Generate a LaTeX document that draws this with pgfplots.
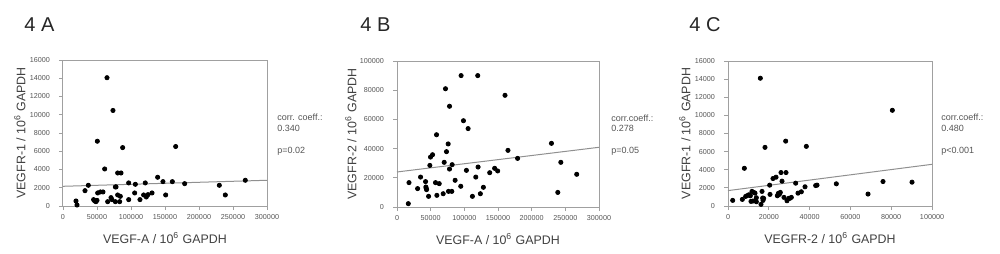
\documentclass[border=0pt]{standalone}
\usepackage{pgfplots}
\pgfplotsset{compat=1.18}
\usepackage{fontspec}
\setmainfont{Liberation Sans}
\definecolor{txt}{HTML}{404040}
\definecolor{tick}{HTML}{555555}
\definecolor{box}{HTML}{A0A0A0}
\definecolor{trend}{HTML}{909090}
\pgfplotsset{
  panel/.style={
    scale only axis,
    axis line style={box, line width=0.5pt},
    tick style={box, line width=0.4pt},
    major tick length=2pt,
    tick align=outside,
    axis x line*=bottom, axis y line*=left,
    ticklabel style={font=\fontsize{3.6}{4}\selectfont, text=tick},
    /pgf/number format/assume math mode=true,
    /pgf/number format/fixed,
    /pgf/number format/1000 sep={},
    scaled ticks=false,
    xtick pos=bottom, ytick pos=left,
    xticklabel style={yshift=1.5pt},
    yticklabel style={xshift=-1pt},
    label style={font=\fontsize{6.2}{7}\selectfont, text=txt},
    xlabel style={at={([yshift=-16pt]axis description cs:0.5,0)}, anchor=center},
    ylabel style={at={([xshift=-21.5pt]axis description cs:0,0.5)}, anchor=center, rotate=0},
    clip=false,
  },
  pts/.style={only marks, mark=*, mark size=1.05pt, black, mark options={fill=black}},
  tr/.style={trend, line width=0.5pt, no marks},
}
\begin{document}
\begin{tikzpicture}
\useasboundingbox (0,0) rectangle (500pt,126.5pt);
% Panel A
\begin{axis}[panel, at={(31.5pt,23.5pt)}, anchor=south west, width=102pt, height=73pt,
  xmin=0, xmax=300000, ymin=0, ymax=16000,
  xtick={0,50000,100000,150000,200000,250000,300000},
  ytick={0,2000,4000,6000,8000,10000,12000,14000,16000},
  xlabel={VEGF-A / 10\textsuperscript{6} GAPDH},
  ylabel={VEGFR-1 / 10\textsuperscript{6} GAPDH}]
\draw[box, line width=0.5pt] (rel axis cs:0,0) rectangle (rel axis cs:1,1);
\addplot[tr] coordinates {(0,2160) (300000,2820)};
\addplot[pts] coordinates {
(64700,14060) (73500,10470) (50500,7100) (87700,6400) (165700,6520)
(61300,4060) (80400,3620) (85300,3620) (37250,2270) (77000,2090) (78000,2090)
(96600,2530) (106400,2380) (121000,2530) (139200,3150) (147000,2670)
(160800,2670) (178900,2450) (229900,2270) (268100,2820) (238700,1210)
(151000,1210) (32350,1680) (51000,1430) (54900,1540) (58800,1540)
(105400,1430) (118600,1210) (122500,990) (125000,1245) (130900,1430)
(80400,1210) (84300,1060) (113200,700) (96600,700) (70600,915) (72000,700)
(65700,475) (77000,475) (83300,475) (45000,700) (46600,550) (48500,475)
(50000,620) (19100,550) (20600,110)
};
\end{axis}
% Panel B
\begin{axis}[panel, at={(198.5pt,23pt)}, anchor=south west, width=101pt, height=73pt,
  xmin=0, xmax=300000, ymin=0, ymax=100000,
  xtick={0,50000,100000,150000,200000,250000,300000},
  ytick={0,20000,40000,60000,80000,100000},
  xlabel={VEGF-A / 10\textsuperscript{6} GAPDH},
  ylabel={VEGFR-2 / 10\textsuperscript{6} GAPDH},
  ylabel style={at={([xshift=-23pt]axis description cs:0,0.5)}}]
\draw[box, line width=0.5pt] (rel axis cs:0,0) rectangle (rel axis cs:1,1);
\addplot[tr] coordinates {(0,24000) (300000,40900)};
\addplot[pts] coordinates {
(95200,90000) (119900,90000) (72000,81000) (160400,76500) (78000,69000)
(98700,59100) (105600,53700) (58700,49500) (76000,43200) (229400,43600)
(73500,37900) (164800,38800) (52800,35800) (49800,34200) (70100,30600)
(243300,30600) (179100,33300) (48800,28500) (81900,29000) (120400,27400)
(78000,26000) (103100,25100) (137700,23500) (145000,26500) (149500,24700)
(266900,22400) (35000,20500) (117000,20500) (17800,16700) (42400,17400)
(57200,16700) (62700,16000) (86300,18300) (94700,14200) (128300,13500)
(42900,13700) (43400,12800) (43900,11900) (30600,12600) (76500,10700)
(81400,10700) (68600,9100) (123800,9100) (238800,10000) (46900,7300)
(59200,8000) (112000,7300) (16800,2300)
};
\end{axis}
% Panel C
\begin{axis}[panel, at={(364pt,23.5pt)}, anchor=south west, width=102pt, height=72.5pt,
  xmin=0, xmax=100000, ymin=0, ymax=16000,
  xtick={0,20000,40000,60000,80000,100000},
  ytick={0,2000,4000,6000,8000,10000,12000,14000,16000},
  xlabel={VEGFR-2 / 10\textsuperscript{6} GAPDH},
  ylabel={VEGFR-1 / 10\textsuperscript{6} GAPDH}]
\draw[box, line width=0.5pt] (rel axis cs:0,0) rectangle (rel axis cs:1,1);
\addplot[tr] coordinates {(0,1700) (100000,4600)};
\addplot[pts] coordinates {
(15850,14100) (80560,10560) (28270,7160) (38400,6580) (18140,6470)
(8010,4160) (25980,3690) (28430,3690) (26470,2740) (22060,3030) (23530,3180)
(20420,2300) (33170,2520) (42970,2260) (43630,2300) (53100,2450)
(75980,2700) (90200,2630) (37750,2120) (34310,1420) (35950,1570)
(31050,950) (30230,840) (20590,1280) (25160,1280) (25650,1500)
(16670,1610) (16990,880) (11760,1610) (12580,1500) (13240,1420)
(13890,910) (13890,470) (8660,1060) (9640,1170) (10290,1240) (10950,1130)
(11270,510) (12250,550) (16180,180) (2290,620) (7030,730) (17480,840)
(17160,620) (24180,1130) (24670,1390) (27450,950) (28920,580) (29740,840)
(68630,1320)
};
\end{axis}
% Titles
\begin{scope}[every node/.style={anchor=west, font=\fontsize{10}{12}\selectfont, text=black!85, inner sep=0pt}]
\node at (12pt,114pt) {4 A};
\node at (180pt,114pt) {4 B};
\node at (344.5pt,114pt) {4 C};
\end{scope}
% Statistics
\begin{scope}[every node/.style={anchor=west, font=\fontsize{4.5}{5}\selectfont, text=tick, inner sep=0pt}]
\node at (138.5pt,68pt) {corr. coeff.:};
\node at (138.5pt,62.5pt) {0.340};
\node at (138.5pt,51pt) {p=0.02};
\node at (305.5pt,67.5pt) {corr.coeff.:};
\node at (305.5pt,62.5pt) {0.278};
\node at (305.5pt,51pt) {p=0.05};
\node at (470.5pt,68pt) {corr.coeff.:};
\node at (470.5pt,62.5pt) {0.480};
\node at (470.5pt,51pt) {p<0.001};
\end{scope}
\end{tikzpicture}
\end{document}
